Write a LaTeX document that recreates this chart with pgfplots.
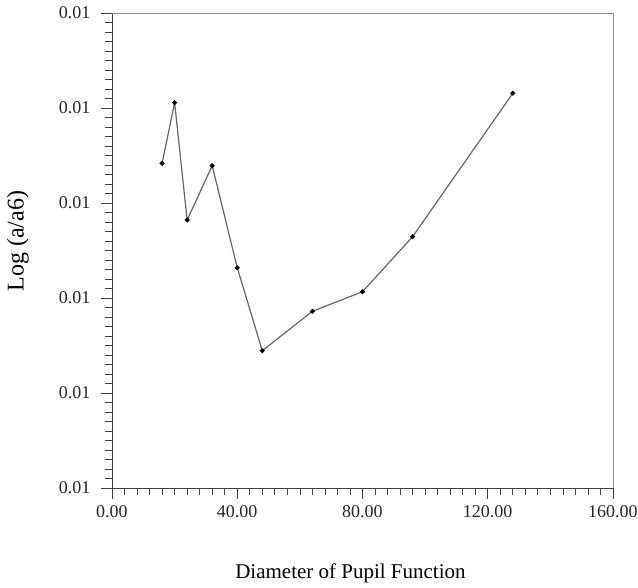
\documentclass[border=0pt]{standalone}
\usepackage{fontspec}
\setmainfont{Liberation Serif}
\usepackage{pgfplots}
\pgfplotsset{compat=1.18}

\begin{document}
\begin{tikzpicture}
\begin{axis}[
  scale only axis, width=501pt, height=475pt,
  xmin=0, xmax=160, ymin=0.006, ymax=0.011,
  axis x line=bottom, axis y line=left,
  axis line style={-, black!75, line width=0.8pt},
  xtick={0,40,80,120,160},
  ytick={0.006,0.007,0.008,0.009,0.010,0.011},
  minor x tick num=9, minor y tick num=9,
  tick align=outside,
  major tick length=11pt, minor tick length=7pt,
  tick style={black!75, line width=0.7pt},
  scaled y ticks=false, scaled x ticks=false,
  /pgf/number format/fixed,
  /pgf/number format/precision=2,
  /pgf/number format/fixed zerofill,
  /pgf/number format/assume math mode=true,
  ticklabel style={font=\fontsize{18}{18}\selectfont, text=black!85},
  yticklabel style={xshift=-7pt},
  xticklabel style={yshift=-3pt},
  xlabel={Diameter of Pupil Function},
  ylabel={Log (a/a6)},
  xlabel style={font=\fontsize{21}{21}\selectfont,
    at={(axis description cs:0.476,-0.1895)}, anchor=base},
  ylabel style={font=\fontsize{24}{24}\selectfont,
    at={(axis description cs:-0.1876,0.52)}, anchor=center},
  clip=false,
]
% upper and right frame, lighter than the axes
\draw[black!45, line width=0.8pt] (rel axis cs:0,1) -- (rel axis cs:1,1) -- (rel axis cs:1,0);
\addplot[black!60, line width=1.2pt, mark=*, mark size=1.8pt,
  mark options={black, draw=black}] coordinates {
  (16,0.009418) (20,0.010056) (24,0.008821) (32,0.009393) (40,0.008319)
  (48,0.007445) (64,0.007860) (80,0.008066) (96,0.008645) (128,0.010155)
};
\end{axis}
\pgfresetboundingbox
\useasboundingbox (current axis.south west) ++(-112pt,-100pt) rectangle ++(638pt,588pt);
\end{tikzpicture}
\end{document}
